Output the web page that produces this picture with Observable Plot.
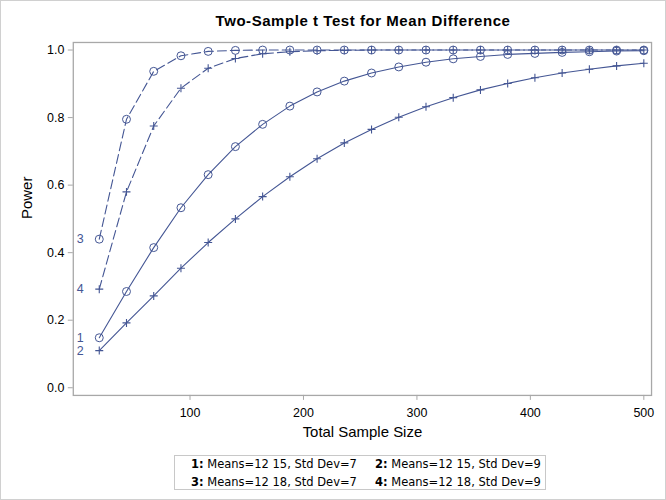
<!DOCTYPE html>
<html>
<head>
<meta charset="utf-8">
<script src="https://cdn.jsdelivr.net/npm/d3@7"></script>
<script src="https://cdn.jsdelivr.net/npm/@observablehq/plot@0.6"></script>
<style>
  html, body { margin: 0; padding: 0; background: #fff; }
  #wrap { position: relative; width: 666px; height: 500px; box-sizing: border-box; border: 1px solid #d0d0d0; font-family: "Liberation Sans", Arial, sans-serif; overflow: hidden; }
  #title { position: absolute; left: 0; top: 0; width: 666px; height: 36px; }
  #title div { position: absolute; left: 72px; width: 580px; top: 11px; text-align: center; font-weight: bold; font-size: 15px; letter-spacing: 0.55px; color: #000; }
  #chart { position: absolute; left: -1px; top: 35px; }
  #legend { position: absolute; left: 173px; top: 454px; width: 372px; height: 35px; box-sizing: border-box; border: 1px solid #c8c8c8; font-family: "DejaVu Sans", sans-serif; font-size: 11.5px; line-height: 13px; color: #000; }
  #legend span { position: absolute; white-space: nowrap; }
  #legend b { font-weight: bold; }
</style>
</head>
<body>
<div id="wrap">
  <div id="title"><div>Two-Sample t Test for Mean Difference</div></div>
  <div id="chart"></div>
  <div id="legend"></div>
</div>
<script>
// Total sample sizes
const sampleSize = [20, 44, 68, 92, 116, 140, 164, 188, 212, 236, 260, 284, 308, 332, 356, 380, 404, 428, 452, 476, 500];
// Power per scenario
const power1 = [0.148, 0.285, 0.415, 0.533, 0.631, 0.714, 0.780, 0.834, 0.876, 0.908, 0.932, 0.950, 0.964, 0.974, 0.981, 0.987, 0.990, 0.993, 0.995, 0.997, 0.998];
const power2 = [0.110, 0.192, 0.272, 0.354, 0.430, 0.500, 0.566, 0.625, 0.678, 0.725, 0.765, 0.801, 0.832, 0.859, 0.882, 0.901, 0.918, 0.932, 0.943, 0.953, 0.961];
const power3 = [0.440, 0.795, 0.937, 0.983, 0.996, 0.999, 1.000, 1.000, 1.000, 1.000, 1.000, 1.000, 1.000, 1.000, 1.000, 1.000, 1.000, 1.000, 1.000, 1.000, 1.000];
const power4 = [0.292, 0.580, 0.775, 0.887, 0.946, 0.975, 0.989, 0.995, 0.998, 0.999, 1.000, 1.000, 1.000, 1.000, 1.000, 1.000, 1.000, 1.000, 1.000, 1.000, 1.000];
const seriesIds = ["1", "2", "3", "4"];
const seriesNames = ["Means=12 15, Std Dev=7", "Means=12 15, Std Dev=9", "Means=12 18, Std Dev=7", "Means=12 18, Std Dev=9"];
const xTicks = [100, 200, 300, 400, 500];
const yTicks = [0, 0.2, 0.4, 0.6, 0.8, 1.0];

const allPower = [power1, power2, power3, power4];
const rows = [];
seriesIds.forEach((id, i) => {
  sampleSize.forEach((n, j) => rows.push({id, n, p: allPower[i][j]}));
});
const firsts = seriesIds.map((id, i) => ({id, n: sampleSize[0], p: allPower[i][0]}));

const col = "#445694";
const axisCol = "#a8a8a8";
const font = "Liberation Sans, Arial, sans-serif";

const solid = rows.filter(d => d.id === "1" || d.id === "2");
const dashed = rows.filter(d => d.id === "3" || d.id === "4");
const circ = rows.filter(d => d.id === "1" || d.id === "3");
const plus = rows.filter(d => d.id === "2" || d.id === "4");

const chart = Plot.plot({
  width: 667,
  height: 415,
  marginTop: 6,
  marginBottom: 55,
  marginLeft: 73,
  marginRight: 14,
  style: {fontFamily: font, fontSize: "12px", color: "#000", background: "transparent"},
  x: {domain: [-2.9, 506.8], ticks: xTicks, tickSize: 5, tickPadding: 8, label: null},
  y: {domain: [-0.0227, 1.0224], ticks: yTicks, tickFormat: d3.format(".1f"), tickSize: 5, tickPadding: 4, label: null},
  marks: [
    Plot.frame({stroke: axisCol, strokeWidth: 1.3}),
    Plot.axisX({ticks: xTicks, tickSize: 5, tickPadding: 8, stroke: axisCol, color: "#000", label: null, fontSize: 12.5}),
    Plot.axisY({ticks: yTicks, tickFormat: d3.format(".1f"), tickSize: 5, tickPadding: 4, stroke: axisCol, color: "#000", label: null, fontSize: 12.5}),
    Plot.line(solid, {x: "n", y: "p", z: "id", stroke: col, strokeWidth: 1.1}),
    Plot.line(dashed, {x: "n", y: "p", z: "id", stroke: col, strokeWidth: 1.1, strokeDasharray: "9,4"}),
    Plot.dot(circ, {x: "n", y: "p", symbol: "circle", r: 4, stroke: col, fill: "none", strokeWidth: 1}),
    Plot.dot(plus, {x: "n", y: "p", symbol: "plus", r: 2.7, stroke: col, fill: "none", strokeWidth: 1.1}),
    Plot.text(firsts, {x: "n", y: "p", text: "id", dx: -19, fill: col, fontSize: 12.5, textAnchor: "middle"}),
    Plot.text(["Total Sample Size"], {frameAnchor: "bottom", dy: 42, text: d => d, fontSize: 15, fill: "#000"}),
    Plot.text(["Power"], {frameAnchor: "left", dx: -46, rotate: -90, text: d => d, fontSize: 15, fill: "#000"})
  ]
});
document.getElementById("chart").appendChild(chart);

// Legend
const leg = document.getElementById("legend");
const pos = [[16, 2], [200, 2], [16, 20], [200, 20]];
seriesIds.forEach((id, i) => {
  const s = document.createElement("span");
  s.style.left = pos[i][0] + "px";
  s.style.top = pos[i][1] + "px";
  s.innerHTML = "<b>" + id + ":</b> " + seriesNames[i];
  leg.appendChild(s);
});
</script>
</body>
</html>
